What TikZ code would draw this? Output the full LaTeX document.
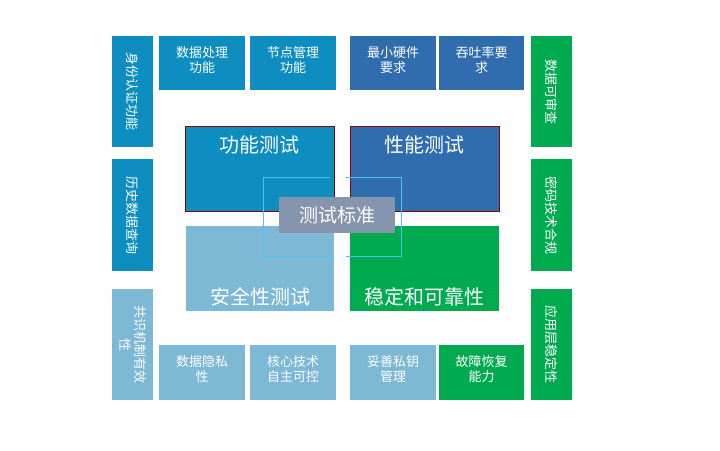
\documentclass[tikz,border=0pt]{standalone}
\usepackage{fontspec}
\newfontfamily\cjk{Noto Sans CJK SC}
\definecolor{cteal}{HTML}{0E8EC0}
\definecolor{cdark}{HTML}{2F6DAF}
\definecolor{clight}{HTML}{7DB8D4}
\definecolor{cgreen}{HTML}{00AA4F}
\definecolor{cgrey}{HTML}{8595AD}
\definecolor{ccyan}{HTML}{4FC3EE}
\tikzset{
  cell/.style={inner sep=0pt, text=white, align=center, font=\cjk\fontsize{13}{15}\selectfont},
  vcell/.style={cell, rotate=-90},
  big/.style={inner sep=0pt, text=white, font=\cjk\fontsize{20}{22}\selectfont}
}
\begin{document}
\begin{tikzpicture}[x=1pt,y=-1pt]
  \useasboundingbox (0,0) rectangle (720,450);
  % side columns
  \fill[cteal] (112,36) rectangle (153,147);
  \node[vcell] (auth) at (132.5,91.5) {身份认证功能};
  \fill[cteal] (112,159) rectangle (153,271);
  \node[vcell] (hist) at (132.5,215) {历史数据查询};
  \fill[clight] (112,289) rectangle (153,400);
  \node[vcell] (cons) at (132.5,344.5) {共识机制有效\\性};
  \fill[cgreen] (531,36) rectangle (572,147);
  \node[vcell] (audit) at (551.5,91.5) {数据可审查};
  \fill[cgreen] (531,159) rectangle (572,271);
  \node[vcell] (crypt) at (551.5,215) {密码技术合规};
  \fill[cgreen] (531,289) rectangle (572,400);
  \node[vcell] (app) at (551.5,344.5) {应用层稳定性};
  % top row
  \fill[cteal] (159,36) rectangle (245,90);
  \node[cell] (proc) at (202,60) {数据处理\\功能};
  \fill[cteal] (250,36) rectangle (336,90);
  \node[cell] (node) at (293,60) {节点管理\\功能};
  \fill[cdark] (350,36) rectangle (436,90);
  \node[cell] (hw) at (393,60) {最小硬件\\要求};
  \fill[cdark] (439,36) rectangle (524,90);
  \node[cell] (tps) at (481.5,60) {吞吐率要\\求};
  % bottom row
  \fill[clight] (159,345) rectangle (245,400);
  \node[cell] (priv) at (202,369) {数据隐私\\性};
  \fill[clight] (250,345) rectangle (336,400);
  \node[cell] (core) at (293,369) {核心技术\\自主可控};
  \fill[clight] (350,345) rectangle (436,400);
  \node[cell] (key) at (393,369) {妥善私钥\\管理};
  \fill[cgreen] (439,345) rectangle (524,400);
  \node[cell] (rec) at (481.5,369) {故障恢复\\能力};
  % big quadrants
  \draw[fill=cteal, draw=red!55!black] (185,126) rectangle (334,211);
  \node[big] (func) at (259.5,145) {功能测试};
  \draw[fill=cdark, draw=red!55!black] (350,126) rectangle (499,211);
  \node[big] (perf) at (424.5,145) {性能测试};
  \fill[clight] (186,226) rectangle (334,311);
  \node[big] (sec) at (260,297) {安全性测试};
  \fill[cgreen] (350,226) rectangle (499,311);
  \node[big] (stab) at (424.5,297) {稳定和可靠性};
  % brackets
  \draw[ccyan, thin] (330,177) -- (263,177) -- (263,256) -- (330,256);
  \draw[ccyan, thin] (346,177) -- (401,177) -- (401,256) -- (346,256);
  % centre
  \fill[cgrey] (279,197) rectangle (395,233);
  \node[big, font=\cjk\fontsize{19}{21}\selectfont] (std) at (337,215) {测试标准};
\end{tikzpicture}
\end{document}
